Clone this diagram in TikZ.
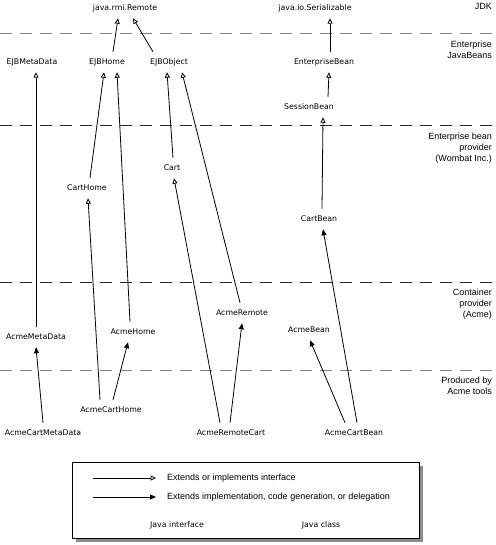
\documentclass[tikz,border=0pt]{standalone}
\usepackage{fontspec}
\setmainfont{Liberation Sans}
\newfontfamily\genevafont{DejaVu Sans}
\usetikzlibrary{arrows.meta}
\tikzset{
  lbl/.style={font=\genevafont\fontsize{7.8}{9}\selectfont, inner sep=0pt, text height=6pt, text depth=1.5pt, outer ysep=6.5pt, outer xsep=0pt},
  side/.style={font=\fontsize{9}{11}\selectfont, align=right, anchor=north east, inner sep=0pt},
  ifc/.style={draw=black, line width=0.8pt, -{Triangle[open, length=5.5pt, width=5pt]}},
  impl/.style={draw=black, line width=0.8pt, -{Triangle[length=6pt, width=5pt]}},
  sepdark/.style={draw=black!85, line width=0.9pt, dash pattern=on 12pt off 8pt},
  seplight/.style={draw=black!50, line width=0.9pt, dash pattern=on 12pt off 8pt},
  legtext/.style={font=\fontsize{9}{11}\selectfont, anchor=west, inner sep=0pt}
}
\begin{document}
\begin{tikzpicture}[x=1pt,y=-1pt]
\useasboundingbox (0,0) rectangle (495,545);
% separators
\draw[seplight] (0,33) -- (495,33);
\draw[sepdark] (0,125) -- (495,125);
\draw[sepdark] (0,282) -- (495,282);
\draw[seplight] (0,370) -- (495,370);
% side labels
\node[side] (jdk) at (492,3) {JDK};
\node[side] (ejbs) at (492,41) {Enterprise\\JavaBeans};
\node[side] (ebp) at (492,133) {Enterprise bean\\provider\\(Wombat Inc.)};
\node[side] (cp) at (492,289) {Container\\provider\\(Acme)};
\node[side] (pat) at (492,377) {Produced by\\Acme tools};
% class nodes
\node[lbl] (rmi) at (125,8) {java.rmi.Remote};
\node[lbl] (ser) at (315,8) {java.io.Serializable};
\node[lbl] (ejbmeta) at (32,62) {EJBMetaData};
\node[lbl] (ejbhome) at (107,62) {EJBHome};
\node[lbl] (ejbobj) at (169,62) {EJBObject};
\node[lbl] (entbean) at (324,62) {EnterpriseBean};
\node[lbl] (sessbean) at (309,107) {SessionBean};
\node[lbl] (carthome) at (87,188) {CartHome};
\node[lbl] (cart) at (172,168) {Cart};
\node[lbl] (cartbean) at (319,219) {CartBean};
\node[lbl] (acmemeta) at (36,337) {AcmeMetaData};
\node[lbl] (acmehome) at (133,332) {AcmeHome};
\node[lbl] (acmeremote) at (242,313) {AcmeRemote};
\node[lbl] (acmebean) at (309,330) {AcmeBean};
\node[lbl] (acmecarthome) at (111,410) {AcmeCartHome};
\node[lbl] (acmecartmeta) at (43,433) {AcmeCartMetaData};
\node[lbl] (acmeremotecart) at (231,433) {AcmeRemoteCart};
\node[lbl] (acmecartbean) at (354,433) {AcmeCartBean};
% interface extension
\draw[ifc] ([xshift=6pt]ejbhome.north) -- ([xshift=-7pt]rmi.south);
\draw[ifc] ([xshift=-16pt]ejbobj.north) -- ([xshift=8pt]rmi.south);
\draw[ifc] (acmemeta.north) -- ([xshift=4pt]ejbmeta.south);
\draw[ifc] ([xshift=3pt]carthome.north) -- ([xshift=-3pt]ejbhome.south);
\draw[ifc] ([xshift=-3pt]acmehome.north) -- ([xshift=10pt]ejbhome.south);
\draw[ifc] ([xshift=1pt]cart.north) -- ([xshift=-2pt]ejbobj.south);
\draw[ifc] ([xshift=-2pt]acmeremote.north) -- ([xshift=13pt]ejbobj.south);
\draw[ifc] ([xshift=-11pt]acmecarthome.north) -- ([xshift=1pt]carthome.south);
\draw[ifc] ([xshift=-11pt]acmeremotecart.north) -- ([xshift=2pt]cart.south);
\draw[ifc] ([xshift=6pt]entbean.north) -- ([xshift=15pt]ser.south);
\draw[ifc] ([xshift=19pt]sessbean.north) -- ([xshift=5pt]entbean.south);
\draw[ifc] ([xshift=3pt]cartbean.north) -- ([xshift=14pt]sessbean.south);
% implementation
\draw[impl] ([xshift=2pt]acmecarthome.north) -- ([xshift=-5pt]acmehome.south);
\draw[impl] ([xshift=-1pt]acmeremotecart.north) -- (acmeremote.south);
\draw[impl] (acmecartmeta.north) -- (acmemeta.south);
\draw[impl] ([xshift=3pt]acmecartbean.north) -- ([xshift=4pt]cartbean.south);
\draw[impl] ([xshift=-9pt]acmecartbean.north) -- ([xshift=1pt]acmebean.south);
% legend
\fill[black!45] (76,466) rectangle (423,542);
\draw[fill=white, line width=0.8pt] (72,462) rectangle (419,538);
\coordinate (l1a) at (93,478);
\coordinate (l1b) at (156,478);
\coordinate (l2a) at (93,497);
\coordinate (l2b) at (156,497);
\draw[ifc] (l1a) -- (l1b);
\draw[impl] (l2a) -- (l2b);
\node[legtext] (t1) at (167,478) {Extends or implements interface};
\node[legtext] (t2) at (167,497) {Extends implementation, code generation, or delegation};
\node[lbl] (jint) at (177,525) {Java interface};
\node[lbl] (jcls) at (321,525) {Java class};
\end{tikzpicture}
\end{document}
